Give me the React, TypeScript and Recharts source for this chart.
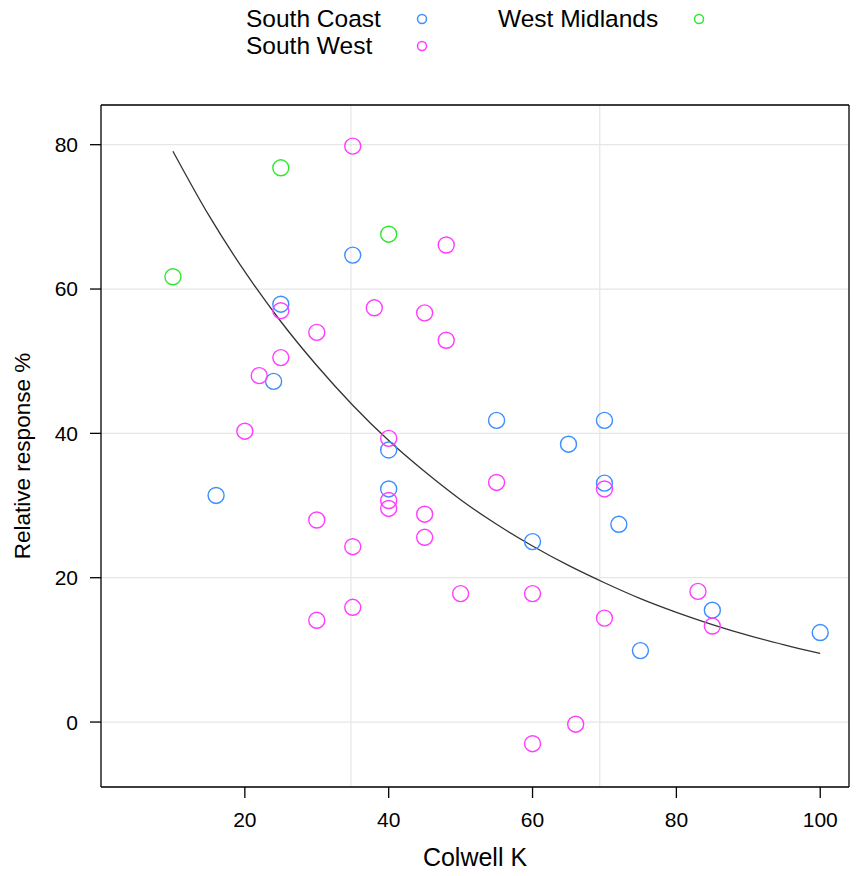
import { ComposedChart, Scatter, XAxis, YAxis, CartesianGrid, ReferenceLine } from 'recharts';

// Colwell K vs relative response, one array per region
const southCoastX = [16, 24, 25, 35, 40, 40, 55, 60, 65, 70, 70, 72, 75, 85, 100];
const southCoastY = [31.4, 47.2, 57.9, 64.7, 37.7, 32.3, 41.8, 25, 38.5, 41.8, 33.1, 27.4, 9.9, 15.5, 12.4];

const southWestX = [35, 48, 38, 45, 48, 25, 30, 25, 22, 20, 40, 40, 40, 45, 45, 30, 35, 35, 30, 50, 55, 60, 60, 66, 70, 70, 83, 85];
const southWestY = [79.8, 66.1, 57.4, 56.7, 52.9, 57, 54, 50.5, 48, 40.3, 39.3, 30.7, 29.6, 28.8, 25.6, 28, 24.3, 15.9, 14.1, 17.8, 33.2, 17.8, -3, -0.3, 32.3, 14.4, 18.1, 13.3];

const westMidlandsX = [10, 25, 40];
const westMidlandsY = [61.7, 76.8, 67.6];

// fitted curve
const curveX = [10, 15, 20, 25, 30, 35, 40, 45, 50, 55, 60, 65, 70, 75, 80, 85, 90, 95, 100];
const curveY = [79.1, 70.2, 62.4, 55.5, 49.4, 43.9, 39.0, 34.7, 30.8, 27.4, 24.4, 21.7, 19.3, 17.1, 15.2, 13.5, 12.0, 10.7, 9.5];

const xTicks = [20, 40, 60, 80, 100];
const yTicks = [0, 20, 40, 60, 80];
const refX = [34.75, 69.35];

const COLORS = {
  southCoast: '#3d8eff',
  southWest: '#ff3dff',
  westMidlands: '#2ee82e',
};

const FONT = '"Liberation Sans", Arial, sans-serif';

const toPoints = (xs: number[], ys: number[]) => xs.map((x, i) => ({ x, y: ys[i] }));

const ring = (color: string) => (props: any) => (
  <circle cx={props.cx} cy={props.cy} r={8} fill="none" stroke={color} strokeWidth={1.4} />
);

const legendItems = [
  { name: 'South Coast', color: COLORS.southCoast, left: 246, top: 5, dotX: 422 },
  { name: 'South West', color: COLORS.southWest, left: 246, top: 32, dotX: 422 },
  { name: 'West Midlands', color: COLORS.westMidlands, left: 498, top: 5, dotX: 699 },
];

export default function App() {
  const tickStyle = { fontSize: 21, fill: '#000', fontFamily: FONT };

  return (
    <div style={{ position: 'absolute', left: 0, top: 0, width: 859, height: 876, fontFamily: FONT }}>
      {legendItems.map((item) => (
        <div key={item.name}>
          <span
            style={{
              position: 'absolute',
              left: item.left,
              top: item.top,
              fontSize: 24.5,
              lineHeight: '27px',
              color: '#000',
              whiteSpace: 'nowrap',
            }}
          >
            {item.name}
          </span>
          <svg
            style={{ position: 'absolute', left: item.dotX - 7, top: item.top + 7 }}
            width={14}
            height={14}
          >
            <circle cx={7} cy={7} r={4.5} fill="none" stroke={item.color} strokeWidth={1.5} />
          </svg>
        </div>
      ))}

      <ComposedChart
        width={859}
        height={876}
        margin={{ top: 85, right: 0, bottom: 29, left: 41 }}
      >
        <CartesianGrid horizontal vertical={false} stroke="#e6e6e6" strokeWidth={1.2} />
        {refX.map((x) => (
          <ReferenceLine key={x} x={x} stroke="#e6e6e6" strokeWidth={1.2} />
        ))}
        <XAxis
          type="number"
          dataKey="x"
          domain={[0, 104]}
          allowDataOverflow
          ticks={xTicks}
          height={60}
          tickSize={11}
          tickMargin={14}
          tick={tickStyle}
          stroke="#000"
          axisLine={{ stroke: '#000', strokeWidth: 1.3 }}
          tickLine={{ stroke: '#000', strokeWidth: 1.3 }}
          label={{
            content: () => (
              <text x={475} y={866} textAnchor="middle" fontSize={25} fill="#000" fontFamily={FONT}>
                Colwell K
              </text>
            ),
          }}
        />
        <XAxis
          xAxisId="top"
          orientation="top"
          type="number"
          dataKey="x"
          domain={[0, 104]}
          allowDataOverflow
          ticks={xTicks}
          height={20}
          tickSize={11}
          tick={false}
          axisLine={{ stroke: '#000', strokeWidth: 1.3 }}
          tickLine={{ stroke: '#000', strokeWidth: 1.3 }}
        />
        <YAxis
          type="number"
          dataKey="y"
          domain={[-9, 85.5]}
          allowDataOverflow
          ticks={yTicks}
          width={60}
          tickSize={11}
          tickMargin={12}
          tick={tickStyle}
          axisLine={{ stroke: '#000', strokeWidth: 1.3 }}
          tickLine={{ stroke: '#000', strokeWidth: 1.3 }}
          label={{
            content: () => (
              <text
                x={30}
                y={456}
                textAnchor="middle"
                transform="rotate(-90 30 456)"
                fontSize={22.5}
                fill="#000"
                fontFamily={FONT}
              >
                Relative response %
              </text>
            ),
          }}
        />
        <YAxis
          yAxisId="right"
          orientation="right"
          type="number"
          domain={[-9, 85.5]}
          allowDataOverflow
          ticks={yTicks}
          width={10}
          tickSize={10}
          tick={false}
          axisLine={{ stroke: '#000', strokeWidth: 1.3 }}
          tickLine={{ stroke: '#000', strokeWidth: 1.3 }}
        />
        <Scatter
          data={toPoints(curveX, curveY)}
          line={{ stroke: '#333', strokeWidth: 1.3 }}
          lineJointType="monotoneX"
          shape={() => <g />}
          isAnimationActive={false}
        />
        <Scatter data={toPoints(southCoastX, southCoastY)} shape={ring(COLORS.southCoast)} isAnimationActive={false} />
        <Scatter data={toPoints(southWestX, southWestY)} shape={ring(COLORS.southWest)} isAnimationActive={false} />
        <Scatter data={toPoints(westMidlandsX, westMidlandsY)} shape={ring(COLORS.westMidlands)} isAnimationActive={false} />
      </ComposedChart>
    </div>
  );
}
